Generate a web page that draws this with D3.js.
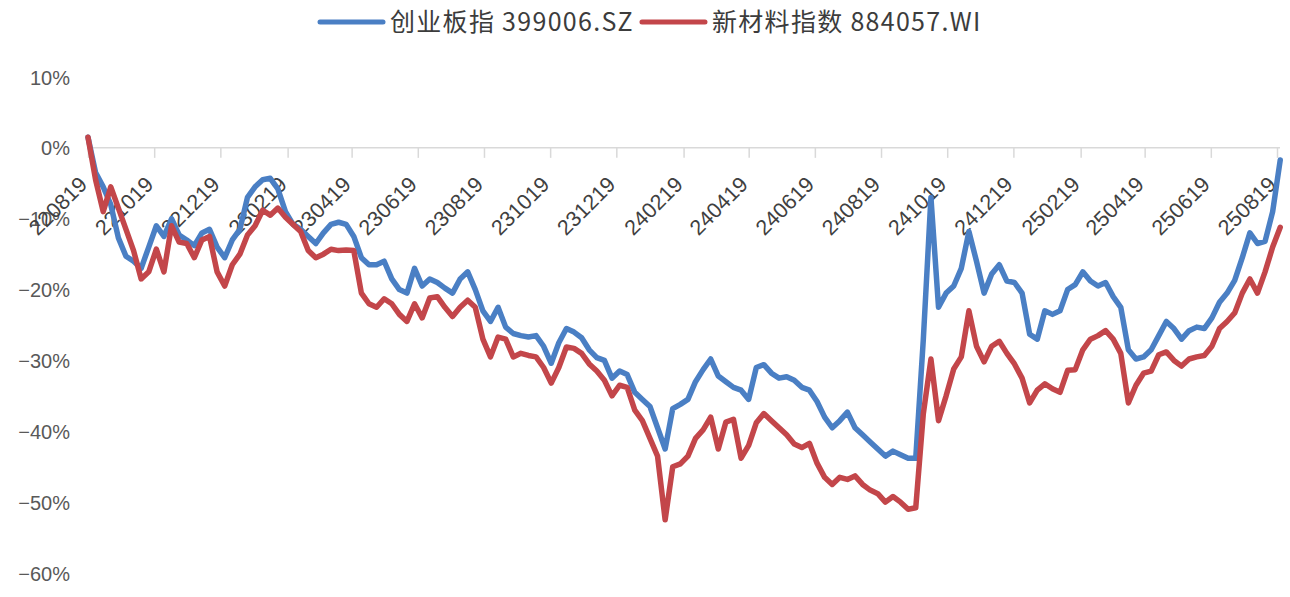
<!DOCTYPE html>
<html><head><meta charset="utf-8">
<script src="https://cdn.jsdelivr.net/npm/d3@7"></script>
<style>body{margin:0;background:#fff} svg{display:block}</style>
</head><body><svg id="c" width="1290" height="597"></svg>
<script>
const seriesNames = ["创业板指 399006.SZ", "新材料指数 884057.WI"];
const seriesColors = ["#4a7fc4", "#c3464a"];
const startDate = "220819";          // first weekly observation
const tickLabels = ["220819","221019","221219","230219","230419","230619","230819","231019","231219",
  "240219","240419","240619","240819","241019","241219","250219","250419","250619","250819"];
const yTicks = [10, 0, -10, -20, -30, -40, -50, -60];

// 创业板指 399006.SZ, weekly cumulative return (%)
const cyb = [1.5,-3.5,-5.5,-8.0,-12.7,-15.3,-16.0,-17.0,-14.0,-11.0,
  -12.5,-10.0,-12.3,-13.0,-13.8,-12.0,-11.5,-14.0,-15.5,-13.0,
  -11.5,-7.0,-5.5,-4.5,-4.3,-5.8,-9.0,-10.8,-11.5,-12.5,
  -13.5,-12.0,-10.8,-10.5,-10.8,-12.5,-15.5,-16.5,-16.5,-16.0,
  -18.5,-20.0,-20.5,-17.0,-19.5,-18.5,-19.0,-19.8,-20.5,-18.5,
  -17.5,-20.0,-23.0,-24.5,-22.5,-25.3,-26.2,-26.5,-26.7,-26.5,
  -28.0,-30.4,-27.5,-25.5,-26.0,-26.8,-28.5,-29.6,-30.0,-32.5,
  -31.5,-32.0,-34.5,-35.5,-36.5,-39.5,-42.5,-36.8,-36.2,-35.5,
  -33.0,-31.3,-29.8,-32.2,-33.0,-33.8,-34.2,-35.5,-31.0,-30.6,
  -31.8,-32.5,-32.3,-32.8,-33.8,-34.2,-35.8,-38.0,-39.5,-38.5,
  -37.3,-39.5,-40.5,-41.5,-42.5,-43.5,-42.8,-43.3,-43.8,-43.8,
  -27.0,-7.0,-22.5,-20.5,-19.5,-17.0,-11.8,-16.0,-20.5,-17.8,
  -16.5,-18.8,-19.0,-20.5,-26.3,-27.0,-23.0,-23.5,-23.0,-20.0,
  -19.3,-17.5,-18.8,-19.5,-19.0,-21.0,-22.5,-28.5,-29.8,-29.5,
  -28.5,-26.5,-24.5,-25.5,-27.0,-25.8,-25.3,-25.5,-24.0,-21.8,
  -20.5,-18.7,-15.5,-12.0,-13.5,-13.2,-9.0,-1.7];

// 新材料指数 884057.WI, weekly cumulative return (%)
const xcl = [1.5,-4.5,-9.0,-5.5,-8.5,-11.5,-14.5,-18.5,-17.5,-14.3,
  -17.5,-11.0,-13.3,-13.5,-15.5,-13.0,-12.5,-17.5,-19.5,-16.5,
  -15.0,-12.3,-11.0,-8.8,-9.5,-8.5,-9.8,-10.8,-11.8,-14.5,
  -15.5,-15.0,-14.3,-14.5,-14.4,-14.5,-20.5,-22.0,-22.5,-21.3,
  -22.0,-23.5,-24.5,-22.0,-24.0,-21.2,-21.0,-22.5,-23.8,-22.5,
  -21.5,-22.5,-27.0,-29.5,-26.7,-27.0,-29.5,-29.0,-29.3,-29.5,
  -31.0,-33.2,-31.0,-28.1,-28.3,-29.0,-30.5,-31.5,-32.8,-35.0,
  -33.5,-33.8,-37.0,-38.5,-41.0,-43.5,-52.5,-45.0,-44.6,-43.5,
  -41.0,-39.8,-38.0,-42.5,-38.7,-38.3,-43.8,-42.0,-38.8,-37.5,
  -38.5,-39.5,-40.5,-41.8,-42.3,-41.7,-44.5,-46.5,-47.5,-46.5,
  -46.8,-46.3,-47.5,-48.3,-48.8,-50.0,-49.2,-50.0,-51.0,-50.8,
  -37.5,-29.8,-38.5,-35.0,-31.2,-29.5,-23.0,-28.0,-30.2,-28.0,
  -27.3,-29.0,-30.5,-32.5,-36.0,-34.2,-33.3,-34.0,-34.5,-31.4,
  -31.3,-28.5,-27.0,-26.5,-25.8,-27.0,-29.0,-36.0,-33.5,-31.8,
  -31.5,-29.2,-28.8,-30.0,-30.8,-29.8,-29.5,-29.3,-28.0,-25.5,
  -24.5,-23.3,-20.5,-18.5,-20.5,-17.5,-14.0,-11.2];

const parse = d3.timeParse("%y%m%d");
const t0 = parse(startDate);
const dates = cyb.map((_, i) => d3.timeDay.offset(t0, 7 * i));
const tickDates = tickLabels.map(parse);

const svg = d3.select("#c");
const x = d3.scaleTime().domain([tickDates[0], tickDates[tickDates.length - 1]]).range([88, 1277]);
const y = d3.scaleLinear().domain([-60, 10]).range([573, 77]);

// y axis labels
const yAxis = d3.axisLeft(y).tickValues(yTicks).tickSize(0).tickPadding(0)
  .tickFormat(d => (d < 0 ? "\u2212" + Math.abs(d) : d) + "%");
const gy = svg.append("g").attr("transform", "translate(70,0)").call(yAxis);
gy.select(".domain").remove();
gy.selectAll("text").attr("font-family", "'Liberation Sans', Arial, sans-serif")
  .attr("font-size", 20).attr("fill", "#595959").attr("dy", "0.35em");

// x axis at 0%
const xAxis = d3.axisBottom(x).tickValues(tickDates).tickSize(10).tickSizeOuter(0)
  .tickFormat((d, i) => tickLabels[i]);
const gx = svg.append("g").attr("transform", `translate(0,${y(0)})`).call(xAxis);
gx.select(".domain").attr("stroke", "#d9d9d9").attr("stroke-width", 1.5)
  .attr("d", `M${x.range()[0]},0H${x.range()[1] + 3}`);
gx.selectAll(".tick line").attr("stroke", "#d9d9d9").attr("stroke-width", 1.5);
gx.selectAll(".tick text")
  .attr("font-family", "'Liberation Sans', Arial, sans-serif")
  .attr("font-size", 21.5).attr("fill", "#404040")
  .attr("text-anchor", "end").attr("dy", 0)
  .attr("transform", "translate(0,38) rotate(-45)")
  .attr("y", 0).attr("x", 0);

// lines
const line = d3.line().x((d, i) => x(dates[i])).y(d => y(d)).curve(d3.curveLinear);
[cyb, xcl].forEach((s, k) => {
  svg.append("path").datum(s).attr("d", line).attr("fill", "none")
    .attr("stroke", seriesColors[k]).attr("stroke-width", 5.5)
    .attr("stroke-linejoin", "round").attr("stroke-linecap", "round");
});

// legend
const lg = svg.append("g").attr("transform", "translate(0,22)");
let cx = 320;
seriesNames.forEach((name, k) => {
  lg.append("line").attr("x1", cx).attr("x2", cx + 63).attr("y1", 0).attr("y2", 0)
    .attr("stroke", seriesColors[k]).attr("stroke-width", 5).attr("stroke-linecap", "round");
  const t = lg.append("text").attr("x", cx + 70).attr("y", 0).attr("dy", "0.35em")
    .attr("font-family", "'Noto Sans CJK SC', 'Noto Sans', sans-serif")
    .attr("font-size", 25).attr("letter-spacing", 1.3).attr("fill", "#3c3c3c").text(name);
  cx = cx + 70 + t.node().getComputedTextLength() + 8;
});
</script></body></html>
